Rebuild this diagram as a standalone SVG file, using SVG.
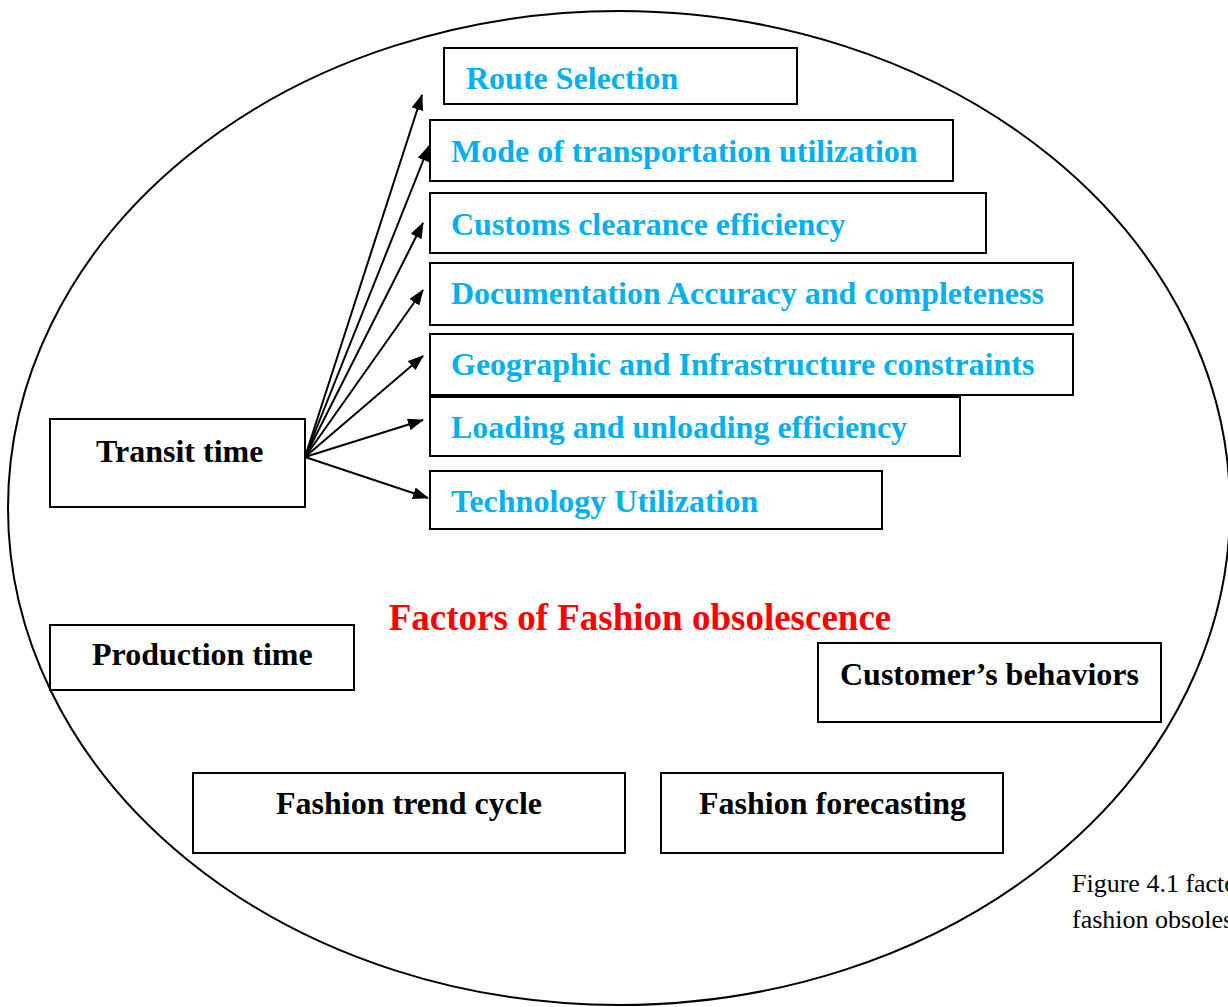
<svg xmlns="http://www.w3.org/2000/svg" width="1228" height="1007" viewBox="0 0 1228 1007">
<style>
.box{fill:#fff;stroke:#000;stroke-width:2}
.blue{font-family:"Liberation Serif",serif;font-weight:bold;font-size:32px;fill:#00B0F0}
.blk{font-family:"Liberation Serif",serif;font-weight:bold;font-size:32px;fill:#000}
.title{font-family:"Liberation Serif",serif;font-weight:bold;font-size:37px;fill:#FF0000}
.cap{font-family:"Liberation Serif",serif;font-size:26px;fill:#000}
.conn line{stroke:#000;stroke-width:2;marker-end:url(#ah)}
</style>
<defs>
<marker id="ah" viewBox="0 0 16 12" refX="15" refY="6" markerWidth="16" markerHeight="12" markerUnits="userSpaceOnUse" orient="auto">
<path d="M0,0 L16,6 L0,12 Z" fill="#000"/>
</marker>
</defs>
<rect width="1228" height="1007" fill="#fff"/>
<ellipse id="outer" cx="619" cy="508" rx="611" ry="497" fill="none" stroke="#000" stroke-width="2"/>
<text class="title" x="640" y="630" text-anchor="middle">Factors of Fashion obsolescence</text>
<g id="route"><rect class="box" x="444" y="48" width="353" height="56"/><text class="blue" x="466" y="89">Route Selection</text></g>
<g id="mode"><rect class="box" x="430" y="120" width="523" height="61"/><text class="blue" x="451" y="162">Mode of transportation utilization</text></g>
<g id="customs"><rect class="box" x="430" y="193" width="556" height="60"/><text class="blue" x="451" y="235">Customs clearance efficiency</text></g>
<g id="documentation"><rect class="box" x="430" y="263" width="643" height="62"/><text class="blue" x="451" y="304">Documentation Accuracy and completeness</text></g>
<g id="geographic"><rect class="box" x="430" y="334" width="643" height="61"/><text class="blue" x="451" y="375">Geographic and Infrastructure constraints</text></g>
<g id="loading"><rect class="box" x="430" y="397" width="530" height="59"/><text class="blue" x="451" y="438">Loading and unloading efficiency</text></g>
<g id="technology"><rect class="box" x="430" y="471" width="452" height="58"/><text class="blue" x="451" y="512">Technology Utilization</text></g>
<g id="transit"><rect class="box" x="50" y="419" width="255" height="88"/><text class="blk" x="96" y="462">Transit time</text></g>
<g id="production"><rect class="box" x="50" y="625" width="304" height="65"/><text class="blk" x="92" y="665">Production time</text></g>
<g id="customer"><rect class="box" x="818" y="643" width="343" height="79"/><text class="blk" x="840" y="685">Customer’s behaviors</text></g>
<g id="trend"><rect class="box" x="193" y="773" width="432" height="80"/><text class="blk" x="276" y="814">Fashion trend cycle</text></g>
<g id="forecasting"><rect class="box" x="661" y="773" width="342" height="80"/><text class="blk" x="699" y="814">Fashion forecasting</text></g>
<g class="conn" id="connectors">
<line x1="305" y1="457" x2="422" y2="95"/>
<line x1="305" y1="457" x2="429" y2="146"/>
<line x1="305" y1="457" x2="423" y2="223"/>
<line x1="305" y1="457" x2="423" y2="290"/>
<line x1="305" y1="457" x2="423" y2="356"/>
<line x1="305" y1="457" x2="423" y2="420"/>
<line x1="305" y1="457" x2="428" y2="498"/>
</g>
<text class="cap" x="1072" y="892">Figure 4.1 factors of</text>
<text class="cap" x="1072" y="928">fashion obsolescence</text>
</svg>
